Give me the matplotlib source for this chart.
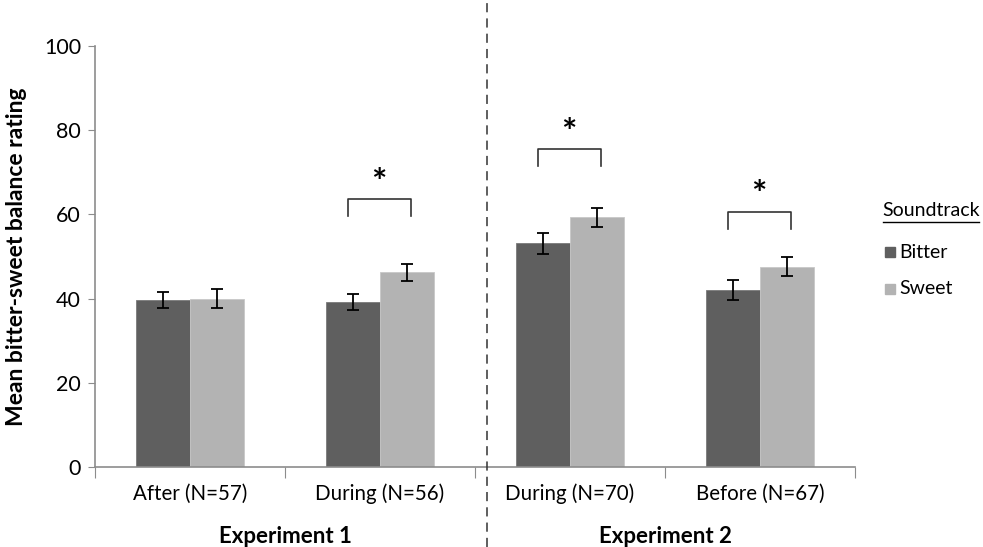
import numpy as np
import matplotlib
matplotlib.use("Agg")
import matplotlib.pyplot as plt
from matplotlib.patches import Rectangle
from matplotlib.lines import Line2D

plt.rcParams['font.family'] = ['Lato', 'DejaVu Sans']

# data
conditions = ["After (N=57)", "During (N=56)", "During (N=70)", "Before (N=67)"]
experiments = ["Experiment 1", "Experiment 2"]
bitter_mean = [39.6, 39.3, 53.1, 42.0]
bitter_err = [1.9, 1.9, 2.4, 2.3]
sweet_mean = [40.0, 46.2, 59.3, 47.6]
sweet_err = [2.3, 2.0, 2.3, 2.2]
# significance brackets: (group index, bracket top, star height)
sig_groups = [1, 2, 3]
sig_top = [63.7, 75.5, 60.6]
sig_star = [68.6, 80.3, 65.6]

c_bitter = "#5f5f5f"
c_sweet = "#b3b3b3"

fig = plt.figure(figsize=(9.83, 5.47), dpi=100)
ax = fig.add_axes([95 / 983, 1 - 467 / 547, 760 / 983, 421 / 547])

x = np.arange(len(conditions))
w = 0.282
ax.bar(x - w / 2, bitter_mean, w, color=c_bitter, edgecolor="#7a7a7a", linewidth=0.6,
       yerr=bitter_err, capsize=4, error_kw=dict(elinewidth=1.3, capthick=1.3, ecolor="black"))
ax.bar(x + w / 2, sweet_mean, w, color=c_sweet, edgecolor="#c8c8c8", linewidth=0.6,
       yerr=sweet_err, capsize=4, error_kw=dict(elinewidth=1.3, capthick=1.3, ecolor="black"))

# significance brackets
for g, top, st in zip(sig_groups, sig_top, sig_star):
    x0, x1 = g - 0.17, g + 0.165
    ax.plot([x0, x0, x1, x1], [top - 4.1, top, top, top - 4.1], color="#333333", lw=1.2,
            solid_joinstyle="round")
    ax.text(g - 0.005, st - 1.2, "*", ha="center", va="center", fontsize=26, fontweight="bold")

ax.set_xlim(-0.5, 3.5)
ax.set_ylim(0, 100)
ax.set_yticks([0, 20, 40, 60, 80, 100])
ax.tick_params(axis="y", labelsize=15.5, length=5, color="#8c8c8c", pad=5)
ax.set_xticks([-0.5, 0.5, 1.5, 2.5, 3.5])
ax.set_xticklabels([])
ax.tick_params(axis="x", length=8, color="#8c8c8c")
for i, lab in enumerate(conditions):
    ax.text(i, -4.0, lab, ha="center", va="top", fontsize=14.8)
ax.text(0.5, -14.0, experiments[0], ha="center", va="top", fontsize=16, fontweight="bold")
ax.text(2.5, -14.0, experiments[1], ha="center", va="top", fontsize=16, fontweight="bold")

for s in ["top", "right"]:
    ax.spines[s].set_visible(False)
for s in ["left", "bottom"]:
    ax.spines[s].set_color("#8c8c8c")
    ax.spines[s].set_linewidth(1.2)

ax.set_ylabel("Mean bitter-sweet balance rating", fontsize=16.5, fontweight="bold", labelpad=12)

# dashed divider between experiments
xd = 95 / 983 + (1.563 + 0.5) / 4 * 760 / 983
fig.add_artist(Line2D([xd, xd], [0, 1], transform=fig.transFigure, color="#333333",
                      lw=1.1, linestyle=(0, (6, 4))))

# legend
fig.text(882 / 983, 1 - 210 / 547, "Soundtrack", fontsize=14, ha="left", va="center")
fig.add_artist(Line2D([883 / 983, 979 / 983], [1 - 222 / 547, 1 - 222 / 547],
                      transform=fig.transFigure, color="black", lw=1))
for yy, col, lab in [(252, c_bitter, "Bitter"), (289, c_sweet, "Sweet")]:
    fig.add_artist(Rectangle((885 / 983, 1 - (yy + 5) / 547), 10 / 983, 10 / 547,
                             transform=fig.transFigure, color=col))
    fig.text(899 / 983, 1 - yy / 547, lab, fontsize=14, ha="left", va="center")

fig.savefig("out.png", dpi=100)
